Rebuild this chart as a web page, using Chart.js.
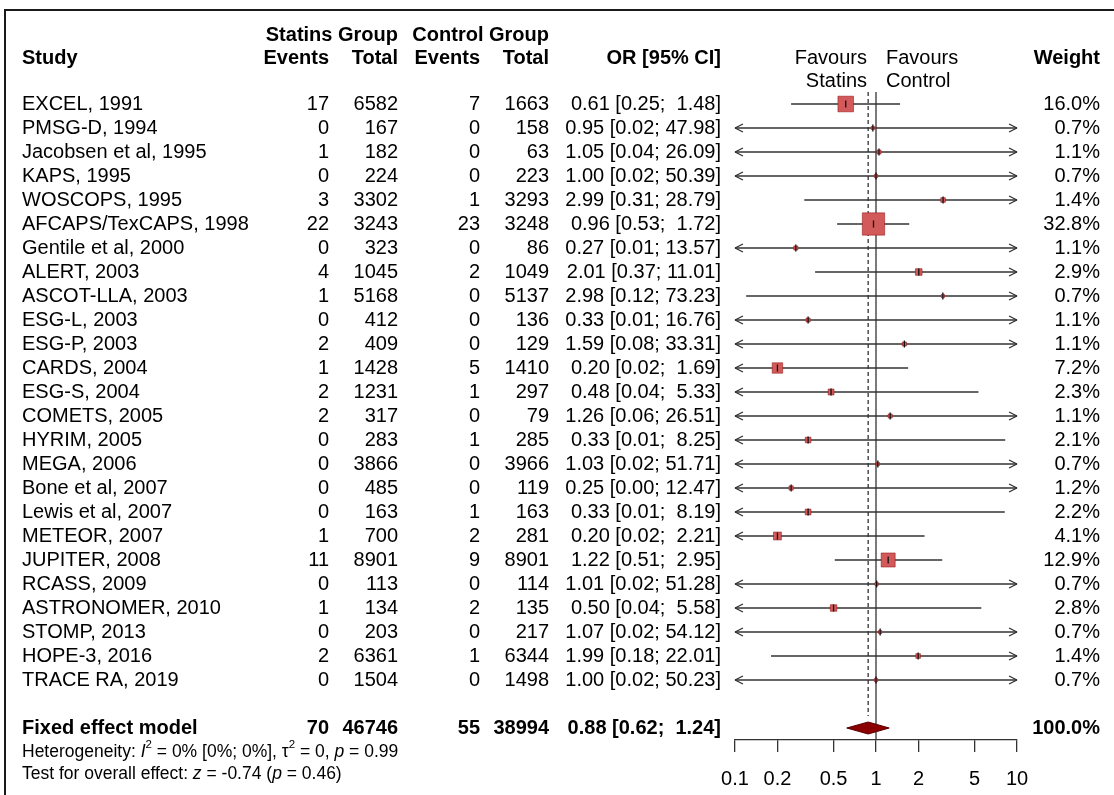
<!DOCTYPE html>
<html lang="en">
  <head>
    <meta charset="UTF-8" />
    <title>Statins forest plot</title>
    <script src="https://cdn.jsdelivr.net/npm/chart.js"></script>
    <style>
      body {
        margin: 0;
        background: #fff;
      }
      canvas {
        display: block;
      }
    </style>
  </head>
  <body>
    <canvas id="forest" width="1114" height="795"></canvas>
    <script>
      const studies = [
        "EXCEL, 1991", "PMSG-D, 1994", "Jacobsen et al, 1995", "KAPS, 1995",
        "WOSCOPS, 1995", "AFCAPS/TexCAPS, 1998", "Gentile et al, 2000",
        "ALERT, 2003", "ASCOT-LLA, 2003", "ESG-L, 2003", "ESG-P, 2003",
        "CARDS, 2004", "ESG-S, 2004", "COMETS, 2005", "HYRIM, 2005",
        "MEGA, 2006", "Bone et al, 2007", "Lewis et al, 2007", "METEOR, 2007",
        "JUPITER, 2008", "RCASS, 2009", "ASTRONOMER, 2010", "STOMP, 2013",
        "HOPE-3, 2016", "TRACE RA, 2019",
      ];
      const statinEvents = [17, 0, 1, 0, 3, 22, 0, 4, 1, 0, 2, 1, 2, 2, 0, 0, 0, 0, 1, 11, 0, 1, 0, 2, 0];
      const statinTotal = [6582, 167, 182, 224, 3302, 3243, 323, 1045, 5168, 412, 409, 1428, 1231, 317, 283, 3866, 485, 163, 700, 8901, 113, 134, 203, 6361, 1504];
      const controlEvents = [7, 0, 0, 0, 1, 23, 0, 2, 0, 0, 0, 5, 1, 0, 1, 0, 0, 1, 2, 9, 0, 2, 0, 1, 0];
      const controlTotal = [1663, 158, 63, 223, 3293, 3248, 86, 1049, 5137, 136, 129, 1410, 297, 79, 285, 3966, 119, 163, 281, 8901, 114, 135, 217, 6344, 1498];
      const oddsRatio = [0.61, 0.95, 1.05, 1.0, 2.99, 0.96, 0.27, 2.01, 2.98, 0.33, 1.59, 0.2, 0.48, 1.26, 0.33, 1.03, 0.25, 0.33, 0.2, 1.22, 1.01, 0.5, 1.07, 1.99, 1.0];
      const ciLower = [0.25, 0.02, 0.04, 0.02, 0.31, 0.53, 0.01, 0.37, 0.12, 0.01, 0.08, 0.02, 0.04, 0.06, 0.01, 0.02, 0.0, 0.01, 0.02, 0.51, 0.02, 0.04, 0.02, 0.18, 0.02];
      const ciUpper = [1.48, 47.98, 26.09, 50.39, 28.79, 1.72, 13.57, 11.01, 73.23, 16.76, 33.31, 1.69, 5.33, 26.51, 8.25, 51.71, 12.47, 8.19, 2.21, 2.95, 51.28, 5.58, 54.12, 22.01, 50.23];
      const weights = [16.0, 0.7, 1.1, 0.7, 1.4, 32.8, 1.1, 2.9, 0.7, 1.1, 1.1, 7.2, 2.3, 1.1, 2.1, 0.7, 1.2, 2.2, 4.1, 12.9, 0.7, 2.8, 0.7, 1.4, 0.7];

      const pooledRow = ["Fixed effect model", 70, 46746, 55, 38994];
      const pooledOR = [0.88, 0.62, 1.24];
      const pooledWeight = 100.0;

      const axisTicks = [0.1, 0.2, 0.5, 1, 2, 5, 10];

      const FONT = "'Liberation Sans', Arial, Helvetica, sans-serif";
      const POOLED_ROW = 26;
      const INK = "#333";

      function ciText(o, l, u) {
        return o.toFixed(2) + " [" + l.toFixed(2) + "; " + u.toFixed(2).padStart(5) + "]";
      }

      // text columns: x position, alignment, cell getter
      const columns = [
        { x: 22, align: "left", cell: (i) => studies[i] },
        { x: 329, align: "right", cell: (i) => statinEvents[i] },
        { x: 398, align: "right", cell: (i) => statinTotal[i] },
        { x: 480, align: "right", cell: (i) => controlEvents[i] },
        { x: 549, align: "right", cell: (i) => controlTotal[i] },
        { x: 721, align: "right", cell: (i) => ciText(oddsRatio[i], ciLower[i], ciUpper[i]) },
        { x: 1100, align: "right", cell: (i) => weights[i].toFixed(1) + "%" },
      ];

      function text(ctx, str, x, y, align, font) {
        ctx.font = font;
        ctx.textAlign = align;
        ctx.fillText(String(str), x, y);
      }

      // footnote line with italic / superscript pieces
      function richLine(ctx, parts, x, y) {
        ctx.textAlign = "left";
        let cx = x;
        parts.forEach(([str, style]) => {
          const sup = style === "s";
          ctx.font = (style === "i" ? "italic " : "") + (sup ? 11.5 : 17.5) + "px " + FONT;
          ctx.fillText(str, cx, sup ? y - 7 : y);
          cx += ctx.measureText(str).width;
        });
      }

      function seg(ctx, x1, y1, x2, y2) {
        ctx.beginPath();
        ctx.moveTo(x1, y1);
        ctx.lineTo(x2, y2);
        ctx.stroke();
      }

      const frame = {
        id: "frame",
        beforeDraw(chart) {
          const { ctx, width, height } = chart;
          ctx.save();
          ctx.fillStyle = "#fff";
          ctx.fillRect(0, 0, width, height);
          ctx.strokeStyle = "#1a1a1a";
          ctx.lineWidth = 2;
          ctx.beginPath();
          ctx.moveTo(width, 10);
          ctx.lineTo(5, 10);
          ctx.lineTo(5, height);
          ctx.stroke();
          ctx.restore();
        },
      };

      const intervals = {
        id: "intervals",
        beforeDatasetsDraw(chart) {
          const { ctx, chartArea, scales: { x, y } } = chart;
          ctx.save();
          ctx.strokeStyle = INK;
          ctx.lineWidth = 1.3;

          const x1 = x.getPixelForValue(1);
          seg(ctx, x1, chartArea.top, x1, chartArea.bottom);
          const xp = x.getPixelForValue(pooledOR[0]);
          ctx.setLineDash([4, 3]);
          seg(ctx, xp, chartArea.top, xp, y.getPixelForValue(POOLED_ROW) - 12);
          ctx.setLineDash([]);

          studies.forEach((s, i) => {
            const yy = y.getPixelForValue(i);
            const cutLeft = ciLower[i] < x.min;
            const cutRight = ciUpper[i] > x.max;
            const xl = x.getPixelForValue(cutLeft ? x.min : ciLower[i]);
            const xr = x.getPixelForValue(cutRight ? x.max : ciUpper[i]);
            seg(ctx, xl, yy, xr, yy);
            if (cutLeft) {
              seg(ctx, xl, yy, xl + 8, yy - 4);
              seg(ctx, xl, yy, xl + 8, yy + 4);
            }
            if (cutRight) {
              seg(ctx, xr, yy, xr - 8, yy - 4);
              seg(ctx, xr, yy, xr - 8, yy + 4);
            }
          });
          ctx.restore();
        },
        afterDatasetsDraw(chart) {
          const { ctx, scales: { x, y } } = chart;
          ctx.save();
          ctx.strokeStyle = "#111";
          ctx.lineWidth = 1.3;
          oddsRatio.forEach((v, i) => {
            const px = x.getPixelForValue(v);
            const yy = y.getPixelForValue(i);
            seg(ctx, px, yy - 3.5, px, yy + 3.5);
          });

          // pooled diamond
          const yy = y.getPixelForValue(POOLED_ROW);
          const [c, l, u] = pooledOR.map((v) => x.getPixelForValue(v));
          ctx.beginPath();
          ctx.moveTo(l, yy);
          ctx.lineTo(c, yy - 6);
          ctx.lineTo(u, yy);
          ctx.lineTo(c, yy + 6);
          ctx.closePath();
          ctx.fillStyle = "#8b0000";
          ctx.fill();
          ctx.strokeStyle = "#5a0000";
          ctx.lineWidth = 1;
          ctx.stroke();
          ctx.restore();
        },
      };

      const table = {
        id: "table",
        afterDraw(chart) {
          const { ctx, scales: { x, y } } = chart;
          const reg = "20px " + FONT;
          const bold = "bold 20px " + FONT;
          ctx.save();
          ctx.fillStyle = "#000";
          ctx.textBaseline = "middle";

          // headers
          text(ctx, "Statins Group", 398, 35, "right", bold);
          text(ctx, "Control Group", 549, 35, "right", bold);
          text(ctx, "Study", 22, 58, "left", bold);
          text(ctx, "Events", 329, 58, "right", bold);
          text(ctx, "Total", 398, 58, "right", bold);
          text(ctx, "Events", 480, 58, "right", bold);
          text(ctx, "Total", 549, 58, "right", bold);
          text(ctx, "OR [95% CI]", 721, 58, "right", bold);
          text(ctx, "Weight", 1100, 58, "right", bold);

          const x1 = x.getPixelForValue(1);
          text(ctx, "Favours", x1 - 9, 58, "right", reg);
          text(ctx, "Statins", x1 - 9, 81, "right", reg);
          text(ctx, "Favours", x1 + 10, 58, "left", reg);
          text(ctx, "Control", x1 + 10, 81, "left", reg);

          // study rows
          studies.forEach((s, i) => {
            const yy = y.getPixelForValue(i);
            columns.forEach((col) => text(ctx, col.cell(i), col.x, yy, col.align, reg));
          });

          // pooled row
          const yp = y.getPixelForValue(POOLED_ROW);
          pooledRow.forEach((v, k) => text(ctx, v, columns[k].x, yp, columns[k].align, bold));
          text(ctx, ciText(...pooledOR), columns[5].x, yp, "right", bold);
          text(ctx, pooledWeight.toFixed(1) + "%", columns[6].x, yp, "right", bold);

          richLine(ctx, [["Heterogeneity: "], ["I", "i"], ["2", "s"], [" = 0% [0%; 0%], "], ["\u03c4"], ["2", "s"], [" = 0, "], ["p", "i"], [" = 0.99"]], 22, 752);
          richLine(ctx, [["Test for overall effect: "], ["z", "i"], [" = -0.74 ("], ["p", "i"], [" = 0.46)"]], 22, 774);
          ctx.restore();
        },
      };

      new Chart(document.getElementById("forest"), {
        type: "scatter",
        data: {
          datasets: [
            {
              data: oddsRatio.map((v, i) => ({ x: v, y: i })),
              pointStyle: "rect",
              pointRadius: weights.map((w) => (3.9 * Math.sqrt(w)) / Math.SQRT2),
              backgroundColor: "#d35a5a",
              borderColor: "rgba(150, 20, 20, 0.55)",
              borderWidth: 1,
            },
          ],
        },
        options: {
          responsive: false,
          animation: false,
          events: [],
          layout: { padding: { left: 735, right: 97, top: 92, bottom: 0 } },
          plugins: { legend: { display: false }, tooltip: { enabled: false } },
          scales: {
            x: {
              type: "logarithmic",
              min: 0.1,
              max: 10,
              afterBuildTicks: (s) => {
                s.ticks = axisTicks.map((v) => ({ value: v }));
              },
              afterFit: (s) => {
                s.height = 55;
              },
              ticks: {
                color: "#000",
                font: { family: FONT, size: 20 },
                padding: 15,
                autoSkip: false,
                maxRotation: 0,
                callback: (v) => String(v),
              },
              grid: { drawOnChartArea: false, tickLength: 12, color: INK, lineWidth: 1.3 },
              border: { color: INK, width: 1.3 },
            },
            y: {
              type: "linear",
              reverse: true,
              min: -0.5,
              max: 26.5,
              display: false,
            },
          },
        },
        plugins: [frame, intervals, table],
      });
    </script>
  </body>
</html>
